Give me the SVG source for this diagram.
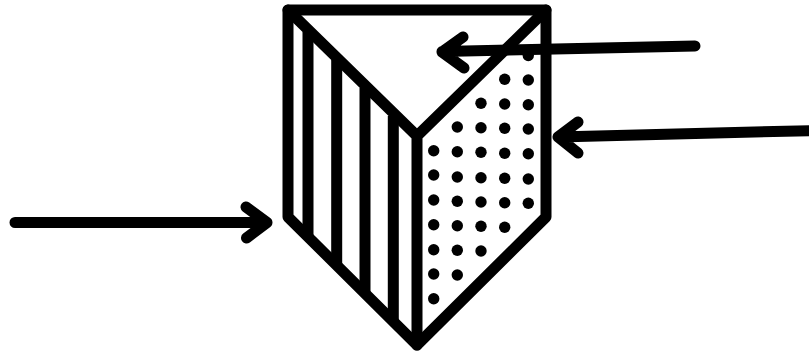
<svg xmlns="http://www.w3.org/2000/svg" width="809" height="354" viewBox="0 0 809 354">
<style>
.s{fill:none;stroke:#000;stroke-linecap:round;stroke-linejoin:round}
.h{stroke-width:11}
.a{stroke-width:11}
.d{fill:#000}
</style>
<rect width="809" height="354" fill="#fff"/>
<g id="prism">
<path class="s h" d="M288 10H546V217L417 345L288 217Z"/>
<path class="s h" d="M288 10L417 136L546 10M417 136V345"/>
<path class="s h" style="stroke-linecap:butt" d="M308 32V238M336.700 60V266M365 88V294M393.300 116V322"/>
</g>
<g id="dots" class="d">
<circle cx="528.300" cy="55.500" r="5.700"/><circle cx="528.300" cy="80" r="5.700"/><circle cx="528.300" cy="104.700" r="5.700"/><circle cx="528.300" cy="129" r="5.700"/><circle cx="528.300" cy="153.700" r="5.700"/><circle cx="528.300" cy="179" r="5.700"/><circle cx="528.300" cy="203.300" r="5.700"/>
<circle cx="504.700" cy="79.300" r="5.700"/><circle cx="504.700" cy="104" r="5.700"/><circle cx="504.700" cy="128.300" r="5.700"/><circle cx="504.700" cy="153.300" r="5.700"/><circle cx="504.700" cy="178.300" r="5.700"/><circle cx="504.700" cy="202.700" r="5.700"/><circle cx="504.700" cy="227.300" r="5.700"/>
<circle cx="481" cy="103.300" r="5.700"/><circle cx="481" cy="127.700" r="5.700"/><circle cx="481" cy="152.300" r="5.700"/><circle cx="481" cy="177.700" r="5.700"/><circle cx="481" cy="202" r="5.700"/><circle cx="481" cy="226.300" r="5.700"/><circle cx="481" cy="251" r="5.700"/>
<circle cx="457.300" cy="127" r="5.700"/><circle cx="457.300" cy="151.700" r="5.700"/><circle cx="457.300" cy="177" r="5.700"/><circle cx="457.300" cy="201.300" r="5.700"/><circle cx="457.300" cy="225.700" r="5.700"/><circle cx="457.300" cy="250.300" r="5.700"/><circle cx="457.300" cy="275" r="5.700"/>
<circle cx="433.700" cy="150.700" r="5.700"/><circle cx="433.700" cy="175" r="5.700"/><circle cx="433.700" cy="200" r="5.700"/><circle cx="433.700" cy="224.700" r="5.700"/><circle cx="433.700" cy="249.700" r="5.700"/><circle cx="433.700" cy="274" r="5.700"/><circle cx="433.700" cy="298.700" r="5.700"/>
</g>
<g id="connectors">
<path class="s a" d="M695 46L442 51.500M463 37L442 52L464 68"/>
<path class="s a" d="M815 130.500L558 137M578 122L558 137L578 153"/>
<path class="s a" d="M15 222.500L267 222.500M246 207L267 222.500L246.500 238"/>
</g>
</svg>
